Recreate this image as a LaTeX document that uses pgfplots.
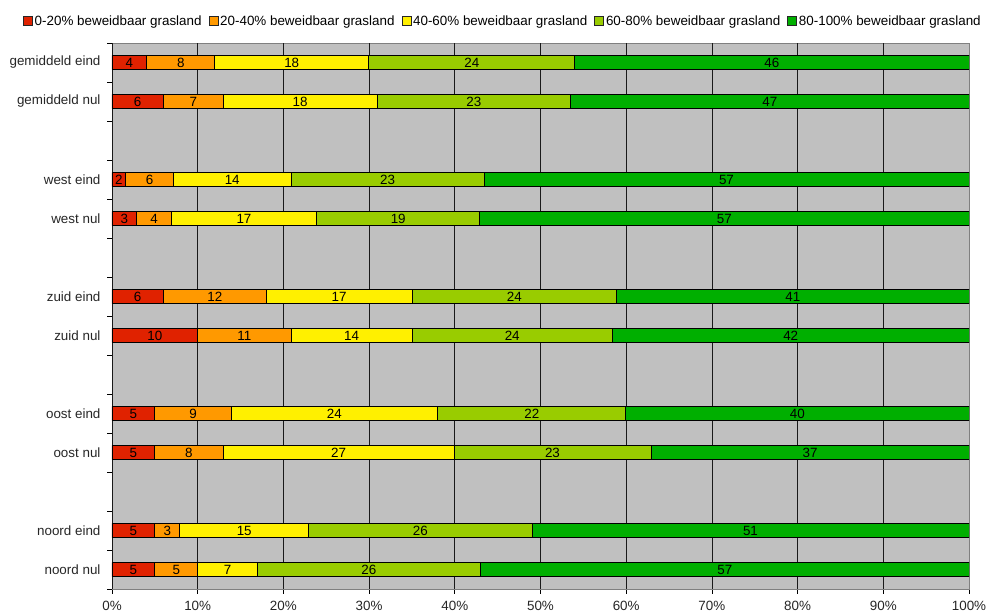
\documentclass[border=0pt]{standalone}
\usepackage{pgfplots}
\pgfplotsset{compat=1.18}
\usepackage{fontspec}
\setmainfont{Liberation Sans}
\definecolor{cA}{HTML}{E02200}
\definecolor{cB}{HTML}{FF9900}
\definecolor{cC}{HTML}{FFF000}
\definecolor{cD}{HTML}{99CC00}
\definecolor{cE}{HTML}{00AF00}
\definecolor{plotbg}{HTML}{C0C0C0}
\newcommand\f{\fontsize{13.4pt}{16pt}\selectfont}
\pgfplotsset{
  lsq/.style={legend image code/.code={\draw[fill=#1,draw=black!85,line width=0.6pt] (0pt,-4.5pt) rectangle (9pt,4.5pt);}},
  frame/.style={
    at={(112pt,27pt)}, anchor=south west,
    width=857pt, height=546pt, scale only axis,
    xmin=0, xmax=100, ymin=-0.5, ymax=13.5,
  },
}

\begin{document}
\begin{tikzpicture}
\path[use as bounding box] (0,0) rectangle (989pt,616pt);
\begin{axis}[
  frame,
  xbar stacked,
  bar width=0.36,
  axis background/.style={fill=plotbg},
  axis line style={black!50, line width=0.8pt},
  tick pos=left,
  xtick={0,10,...,100},
  xticklabels={0\%,10\%,20\%,30\%,40\%,50\%,60\%,70\%,80\%,90\%,100\%},
  xticklabel style={yshift=-4pt},
  extra x ticks={0,10,...,90},
  extra x tick labels={},
  extra x tick style={grid=major, major tick length=0pt},
  grid style={black!90, line width=0.8pt},
  tick align=outside,
  major tick length=5pt,
  tick style={black, line width=0.8pt},
  ytick={-0.5,0.5,...,13.5},
  yticklabels={},
  extra y ticks={0,1,3,4,6,7,9,10,12,13},
  extra y tick labels={noord nul,noord eind,oost nul,oost eind,zuid nul,zuid eind,west nul,west eind,gemiddeld nul,gemiddeld eind},
  extra y tick style={major tick length=0pt, yticklabel style={xshift=-8pt}},
  tick label style={font=\f, black!85},
  legend columns=5,
  legend style={at={(0.455,1.04)}, anchor=center, draw=none, fill=none,
    font=\f, column sep=0pt, nodes={inner xsep=0pt},
    /tikz/every odd column/.append style={column sep=2pt},
    /tikz/every even column/.append style={column sep=7pt}},
  every axis plot/.append style={draw=black, line width=0.8pt},
]
\addplot[fill=cA, lsq=cA] coordinates {
  (4.05,13) (6.0,12) (1.6,10) (2.9,9) (6.0,7) (10.0,6) (5.0,4) (5.0,3) (5.0,1) (5.0,0)};
\addplot[fill=cB, lsq=cB] coordinates {
  (7.93,13) (6.95,12) (5.55,10) (4.0,9) (12.0,7) (10.9,6) (8.9,4) (7.95,3) (2.9,1) (5.0,0)};
\addplot[fill=cC, lsq=cC] coordinates {
  (17.97,13) (18.0,12) (13.75,10) (17.0,9) (17.0,7) (14.1,6) (24.1,4) (26.95,3) (15.05,1) (6.95,0)};
\addplot[fill=cD, lsq=cD] coordinates {
  (24.05,13) (22.55,12) (22.5,10) (19.0,9) (23.9,7) (23.4,6) (21.95,4) (23.0,3) (26.05,1) (26.05,0)};
\addplot[fill=cE, lsq=cE] coordinates {
  (46.0,13) (46.5,12) (56.6,10) (57.1,9) (41.1,7) (41.6,6) (40.05,4) (37.1,3) (51.0,1) (57.0,0)};
\legend{0-20\% beweidbaar grasland, 20-40\% beweidbaar grasland, 40-60\% beweidbaar grasland, 60-80\% beweidbaar grasland, 80-100\% beweidbaar grasland}
\end{axis}
% segment labels at the middle of each segment
\begin{axis}[frame, hide axis]
\addplot[draw=none, mark=none, nodes near coords, point meta=explicit symbolic,
  every node near coord/.style={anchor=center, font=\f, inner sep=0pt, black}]
coordinates {
  (2.03,13)[4] (8.02,13)[8] (20.97,13)[18] (41.98,13)[24] (77.0,13)[46]
  (3.0,12)[6] (9.48,12)[7] (21.95,12)[18] (42.23,12)[23] (76.75,12)[47]
  (0.8,10)[2] (4.38,10)[6] (14.03,10)[14] (32.15,10)[23] (71.7,10)[57]
  (1.45,9)[3] (4.9,9)[4] (15.4,9)[17] (33.4,9)[19] (71.45,9)[57]
  (3.0,7)[6] (12.0,7)[12] (26.5,7)[17] (46.95,7)[24] (79.45,7)[41]
  (5.0,6)[10] (15.45,6)[11] (27.95,6)[14] (46.7,6)[24] (79.2,6)[42]
  (2.5,4)[5] (9.45,4)[9] (25.95,4)[24] (48.98,4)[22] (79.98,4)[40]
  (2.5,3)[5] (8.98,3)[8] (26.43,3)[27] (51.4,3)[23] (81.45,3)[37]
  (2.5,1)[5] (6.45,1)[3] (15.43,1)[15] (35.98,1)[26] (74.5,1)[51]
  (2.5,0)[5] (7.5,0)[5] (13.48,0)[7] (29.98,0)[26] (71.5,0)[57]
};
\end{axis}
\end{tikzpicture}
\end{document}
